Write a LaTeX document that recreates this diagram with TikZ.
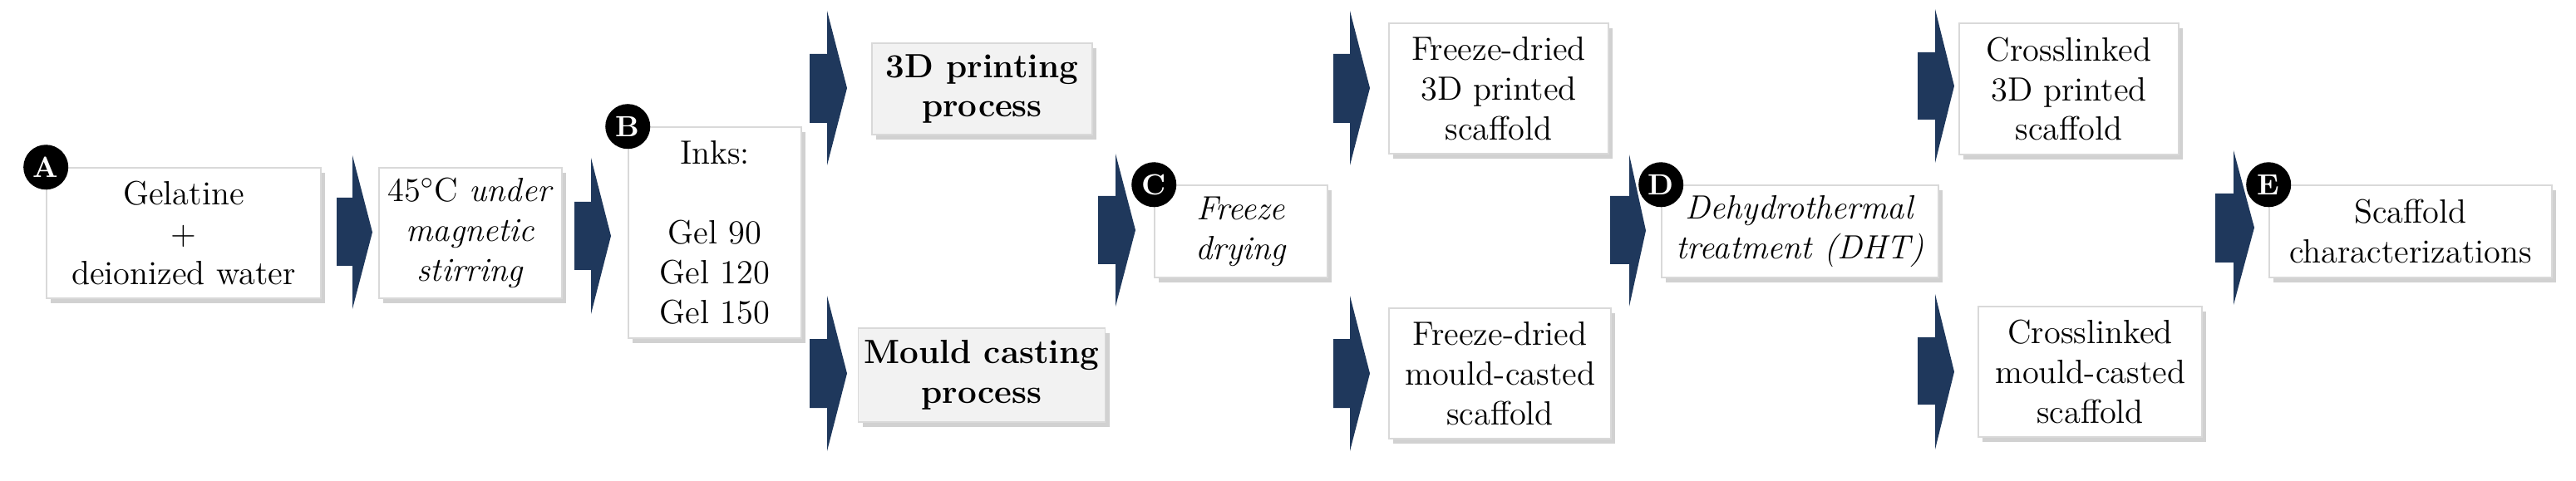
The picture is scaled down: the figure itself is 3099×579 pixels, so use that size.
\documentclass[tikz,border=0pt]{standalone}
\usetikzlibrary{shadows}
\definecolor{navy}{RGB}{31,56,92}
\definecolor{boxgray}{RGB}{242,242,242}
\begin{document}
\begin{tikzpicture}[x=0.01cm,y=-0.01cm,
  box/.style={draw=gray!30,line width=0.4pt,fill=white,align=center,inner sep=2pt,
    font=\fontsize{11.5}{13.6}\selectfont,
    drop shadow={shadow xshift=1.5pt,shadow yshift=-1.8pt,fill=gray!60,opacity=0.6}},
  graybox/.style={box,fill=boxgray,font=\fontsize{11.5}{13.6}\selectfont\bfseries},
  badge/.style={circle,fill=black,text=white,inner sep=0pt,minimum size=0.54cm,font=\bfseries\fontsize{10}{10}\selectfont},
  blk/.style={fill=navy}]
\useasboundingbox (0,0) rectangle (3099,579);
\newcommand\blockarrow[7]{%
  \fill[blk] (#1,#4) -- (#2,#4) -- (#2,#6) -- (#3,{(#6+#7)/2}) -- (#2,#7) -- (#2,#5) -- (#1,#5) -- cycle;}
% boxes
\node[box,minimum width=3.3cm,minimum height=1.57cm] (A) at (221,280.5) {Gelatine\\+\\deionized water};
\node[box,minimum width=2.2cm,minimum height=1.57cm] (S) at (566,280.5) {45$^\circ$C \textit{under}\\\textit{magnetic}\\\textit{stirring}};
\node[box,minimum width=2.08cm,minimum height=2.54cm] (B) at (860,280) {Inks:\\[13.6pt]Gel 90\\Gel 120\\Gel 150};
\node[graybox,minimum width=2.65cm,minimum height=1.1cm] (P3) at (1181.5,107) {3D printing\\process};
\node[graybox,minimum width=2.96cm,minimum height=1.13cm] (PM) at (1181,451.5) {Mould casting\\process};
\node[box,minimum width=2.08cm,minimum height=1.11cm] (C) at (1493,278.5) {\textit{Freeze}\\\textit{drying}};
\node[box,minimum width=2.64cm,minimum height=1.57cm] (F3) at (1803,106.5) {Freeze-dried\\3D printed\\scaffold};
\node[box,minimum width=2.67cm,minimum height=1.57cm] (FM) at (1804.5,449.5) {Freeze-dried\\mould-casted\\scaffold};
\node[box,minimum width=3.33cm,minimum height=1.11cm] (D) at (2165.5,278.5) {\textit{Dehydrothermal}\\\textit{treatment (DHT)}};
\node[box,minimum width=2.64cm,minimum height=1.58cm] (X3) at (2489,107) {Crosslinked\\3D printed\\scaffold};
\node[box,minimum width=2.69cm,minimum height=1.57cm] (XM) at (2514.5,447.5) {Crosslinked\\mould-casted\\scaffold};
\node[box,minimum width=3.4cm,minimum height=1.11cm] (E) at (2900,278.5) {Scaffold\\characterizations};
% badges
\node[badge] (bA) at (A.north west) {A};
\node[badge] (bB) at (B.north west) {B};
\node[badge] (bC) at (C.north west) {C};
\node[badge] (bD) at (D.north west) {D};
\node[badge] (bE) at (E.north west) {E};
% block arrows
\blockarrow{405}{424}{448}{238}{320}{187}{372}
\blockarrow{691}{711}{735}{243}{325}{190}{378}
\blockarrow{974}{995}{1019}{65}{148}{13}{199}
\blockarrow{974}{995}{1019}{408}{491}{356}{543}
\blockarrow{1321}{1342}{1366}{236}{318}{185}{369}
\blockarrow{1604}{1624}{1648}{65}{148}{13}{199}
\blockarrow{1604}{1624}{1648}{408}{491}{356}{543}
\blockarrow{1937}{1960}{1980}{236}{318}{186}{369}
\blockarrow{2307}{2328}{2351}{63}{144}{11}{196}
\blockarrow{2307}{2328}{2351}{406}{487}{354}{541}
\blockarrow{2665}{2687}{2712}{233}{316}{181}{367}
\end{tikzpicture}
\end{document}
